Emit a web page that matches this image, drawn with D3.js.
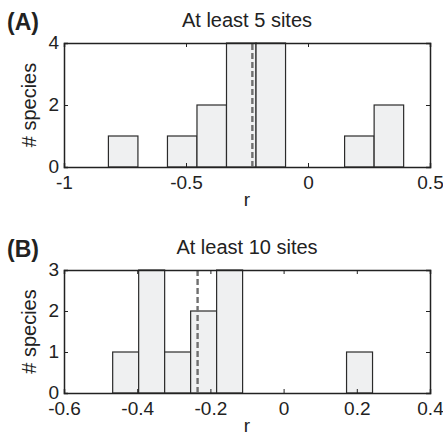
<!DOCTYPE html>
<html>
<head>
<meta charset="utf-8">
<script src="https://cdn.jsdelivr.net/npm/d3@7"></script>
<style>
  body { margin: 0; background: #fff; }
  svg text { font-family: "Liberation Sans", Arial, sans-serif; fill: #222; }
</style>
</head>
<body>
<div class="graph"></div>
<script>
// panel A: at least 5 sites
let edgesA = [-0.818, -0.697, -0.576, -0.455, -0.334, -0.213, -0.092, 0.029, 0.150, 0.271, 0.392];
let countsA = [1, 0, 1, 2, 4, 4, 0, 0, 1, 2];
let meanA = -0.228;
let xTicksA = [-1, -0.5, 0, 0.5];
let yTicksA = [0, 2, 4];

// panel B: at least 10 sites
let edgesB = [-0.467, -0.396, -0.325, -0.254, -0.183, -0.112, -0.041, 0.030, 0.101, 0.172, 0.243];
let countsB = [1, 3, 1, 2, 3, 0, 0, 0, 0, 1];
let meanB = -0.235;
let xTicksB = [-0.6, -0.4, -0.2, 0, 0.2, 0.4];
let yTicksB = [0, 1, 2, 3];

let w = 443;
let h = 438;

let svgvar = d3
  .select(".graph")
  .append("svg")
  .attr("width", w)
  .attr("height", h);

// matlab style labels use a plain hyphen
let fmt = (d) => String(d);

function panel(opt) {
  let x = d3.scaleLinear().domain(opt.xDomain).range([64, 430]);
  let y = d3.scaleLinear().domain(opt.yDomain).range([opt.bottom, opt.top]);
  let g = svgvar.append("g");

  let bins = opt.counts.map((c, i) => ({ x0: opt.edges[i], x1: opt.edges[i + 1], n: c }));

  g.selectAll("rect.bar")
    .data(bins)
    .enter()
    .append("rect")
    .attr("class", "bar")
    .attr("x", (d) => x(d.x0))
    .attr("y", (d) => y(d.n))
    .attr("width", (d) => x(d.x1) - x(d.x0))
    .attr("height", (d) => y(0) - y(d.n))
    .attr("fill", "#eff0f1")
    .attr("stroke", "#2b2b2b")
    .attr("stroke-width", 1.2);

  // dashed mean line
  g.append("line")
    .attr("x1", x(opt.mean))
    .attr("x2", x(opt.mean))
    .attr("y1", y(opt.yDomain[0]))
    .attr("y2", y(opt.yDomain[1]))
    .attr("stroke", "#6f6f6f")
    .attr("stroke-width", 2.4)
    .attr("stroke-dasharray", "6,3");

  // axes, ticks inside on all four sides
  let xAxis = d3.axisBottom(x).tickValues(opt.xTicks).tickSize(-4).tickPadding(9).tickFormat(fmt);
  let yAxis = d3.axisLeft(y).tickValues(opt.yTicks).tickSize(-4).tickPadding(5).tickFormat(fmt);
  let xTop = d3.axisTop(x).tickValues(opt.xTicks).tickSize(-4).tickFormat("");
  let yRight = d3.axisRight(y).tickValues(opt.yTicks).tickSize(-4).tickFormat("");

  g.append("g").attr("transform", "translate(0," + opt.bottom + ")").call(xAxis);
  let ya = g.append("g").attr("transform", "translate(64,0)").call(yAxis);
  g.append("g").attr("transform", "translate(0," + opt.top + ")").call(xTop);
  g.append("g").attr("transform", "translate(430,0)").call(yRight);

  g.selectAll(".domain").attr("stroke", "#222").attr("stroke-width", 1.5);
  g.selectAll(".tick line").attr("stroke", "#222").attr("stroke-width", 1);
  g.selectAll(".tick text").style("font-size", "19px").attr("fill", "#222");
  ya.selectAll(".tick text").attr("dy", "0.3em");

  g.append("text")
    .attr("x", 247)
    .attr("y", opt.top - 16)
    .attr("text-anchor", "middle")
    .style("font-size", "20px")
    .text(opt.title);

  g.append("text")
    .attr("x", 7)
    .attr("y", opt.top - 13)
    .style("font-size", "23px")
    .style("font-weight", "bold")
    .text(opt.label);

  g.append("text")
    .attr("x", 247)
    .attr("y", opt.bottom + 39)
    .attr("text-anchor", "middle")
    .style("font-size", "19px")
    .text("r");

  g.append("text")
    .attr("transform", "translate(36," + (opt.top + opt.bottom) / 2 + ") rotate(-90)")
    .attr("text-anchor", "middle")
    .style("font-size", "20px")
    .text("# species");
}

panel({
  edges: edgesA, counts: countsA, mean: meanA,
  xDomain: [-1, 0.5], yDomain: [0, 4], xTicks: xTicksA, yTicks: yTicksA,
  top: 43, bottom: 167, title: "At least 5 sites", label: "(A)"
});

panel({
  edges: edgesB, counts: countsB, mean: meanB,
  xDomain: [-0.6, 0.4], yDomain: [0, 3], xTicks: xTicksB, yTicks: yTicksB,
  top: 270, bottom: 393, title: "At least 10 sites", label: "(B)"
});
</script>
</body>
</html>
